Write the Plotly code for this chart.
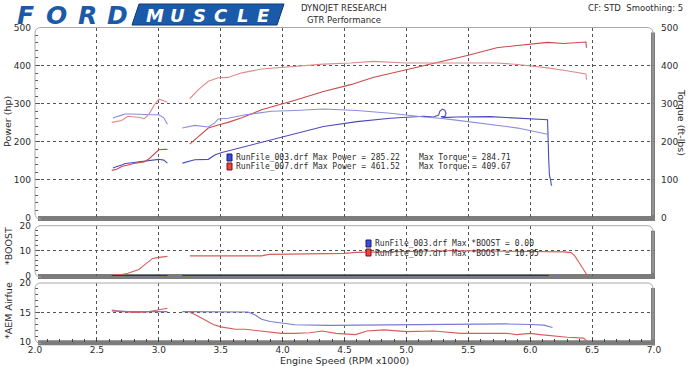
import plotly.graph_objects as go

# ---------------- data ----------------
# Run 003 (blue)
b_rpm_1 = [2.63, 2.65, 2.70, 2.73, 2.78, 2.83, 2.89, 2.95, 3.00, 3.04, 3.07]
b_tq_1 = [262, 265, 270, 273, 273, 272, 271, 271, 271, 263, 246]
b_hp_1 = [131, 134, 139, 143, 145, 147, 150, 152, 154, 152, 144]

b_rpm_tq_2 = [3.19, 3.29, 3.40, 3.45, 3.48, 3.56, 3.70, 3.91, 4.10, 4.33, 4.60, 4.87, 5.14, 5.27, 5.40, 5.68, 5.90, 6.14]
b_tq_2 = [236, 243, 239, 249, 260, 262, 271, 280, 282, 286, 282, 275, 265, 262, 257, 246, 236, 220]

b_rpm_hp_2 = [3.19, 3.29, 3.40, 3.455, 3.51, 3.64, 3.75, 3.91, 4.10, 4.33, 4.60, 4.87, 5.14, 5.22, 5.26, 5.27, 5.29,
              5.31, 5.32, 5.31, 5.28, 5.30, 5.34, 5.40, 5.68, 5.90, 6.14, 6.15, 6.152, 6.155, 6.16, 6.165, 6.17, 6.175]
b_hp_2 = [144, 153, 154, 166, 172, 183, 192, 205, 220, 240, 253, 262, 267, 265, 270, 280, 286,
          283, 275, 266, 266, 264, 264, 265, 266, 263, 258, 150, 126, 115, 105, 100, 88, 85]

# Run 007 (red)
r_rpm_1 = [2.62, 2.66, 2.70, 2.75, 2.80, 2.85, 2.88, 2.92, 2.96, 3.00, 3.04, 3.07]
r_tq_1 = [251, 253, 256, 267, 266, 264, 260, 272, 295, 312, 308, 304]
r_hp_1 = [125, 128, 135, 140, 143, 146, 147, 155, 168, 179, 180, 180]

r_rpm_2 = [3.25, 3.32, 3.40, 3.48, 3.56, 3.67, 3.83, 4.00, 4.10, 4.33, 4.55, 4.73, 5.00, 5.27, 5.50,
           5.73, 5.90, 6.00, 6.14, 6.27, 6.40, 6.45, 6.455]
r_tq_2 = [313, 337, 359, 368, 369, 381, 391, 396, 398, 404, 407, 411, 407, 407, 407,
          407, 403, 400, 394, 388, 381, 378, 363]
r_hp_2 = [194, 213, 236, 244, 251, 263, 284, 300, 309, 332, 350, 369, 389, 411, 427,
          447, 452, 455, 461, 458, 460, 462, 447]

# Boost
b_boost_rpm = [2.62, 3.07, None, 3.19, 6.15]
b_boost = [0, 0, None, 0, 0]
r_boost_rpm_1 = [2.62, 2.70, 2.75, 2.80, 2.84, 2.88, 2.92, 2.95, 3.00, 3.07]
r_boost_1 = [0.4, 0.6, 1.1, 1.8, 2.6, 4.2, 6.0, 7.0, 7.4, 7.8]
r_boost_rpm_2 = [3.25, 3.50, 3.83, 3.89, 4.20, 4.50, 4.59, 4.82, 5.10, 5.35, 5.60, 5.89, 6.10, 6.27, 6.33,
                 6.36, 6.40, 6.43, 6.46]
r_boost_2 = [8.0, 8.0, 8.0, 8.6, 8.7, 9.0, 9.4, 9.6, 9.9, 10.05, 10.0, 9.9, 9.8, 9.6, 9.3,
             8.0, 5.0, 2.4, 0.3]

# AEM air/fuel
b_afr_rpm_1 = [2.62, 2.66, 2.75, 2.85, 2.95, 3.07]
b_afr_1 = [15.45, 15.3, 15.17, 15.15, 15.17, 15.17]
r_afr_rpm_1 = [2.62, 2.70, 2.81, 2.90, 3.00, 3.07]
r_afr_1 = [15.3, 15.15, 15.05, 15.1, 15.45, 15.75]
b_afr_rpm_2 = [3.19, 3.40, 3.60, 3.72, 3.78, 3.83, 3.90, 3.99, 4.10, 4.37, 4.59, 5.00, 5.40, 5.81, 6.00, 6.11, 6.18]
b_afr_2 = [15.17, 15.17, 15.17, 15.1, 14.6, 13.9, 13.5, 13.2, 12.95, 12.85, 12.9, 12.9, 13.0, 13.1, 13.0, 12.9, 12.5]
r_afr_rpm_2 = [3.25, 3.30, 3.37, 3.44, 3.50, 3.62, 3.70, 3.77, 3.83, 3.99, 4.10, 4.22, 4.32, 4.43, 4.59,
               4.68, 4.82, 5.00, 5.22, 5.44, 5.62, 5.81, 5.89, 6.00, 6.08, 6.20, 6.30, 6.43, 6.46]
r_afr_2 = [15.07, 14.6, 13.8, 13.0, 12.6, 12.2, 12.2, 12.05, 11.8, 11.5, 11.5, 11.6, 11.9, 11.5, 11.3,
           11.9, 12.1, 11.8, 11.9, 11.5, 11.5, 11.5, 11.3, 11.5, 11.3, 11.0, 10.85, 10.7, 10.2]

x_ticks = [2.0, 2.5, 3.0, 3.5, 4.0, 4.5, 5.0, 5.5, 6.0, 6.5, 7.0]

legend_power = ["RunFile_003.drf Max Power = 285.22", "RunFile_007.drf Max Power = 461.52"]
legend_torque = ["Max Torque = 284.71", "Max Torque = 409.67"]
legend_boost = ["RunFile_003.drf Max *BOOST = 0.00", "RunFile_007.drf Max *BOOST = 10.05"]

# ---------------- styling ----------------
W, H = 688, 366
L, R = 35, 654
PANELS = {
    'main': ('x', 'y', 27.5, 218.0),
    'boost': ('x2', 'y3', 225.7, 276.0),
    'afr': ('x3', 'y4', 283.0, 342.3),
}
BLUE_HP = '#4b4bbd'
BLUE_TQ = '#8c8ce0'
RED_HP = '#cc4a4a'
RED_TQ = '#e08a8a'
TXT = '#2b2b2b'
FONT = 'DejaVu Sans'
MONO = 'DejaVu Sans Mono'


def join(*segs):
    out = []
    for i, s in enumerate(segs):
        if i:
            out.append(None)
        out.extend(s)
    return out


fig = go.Figure()


def line(x, y, color, xa, ya, width=1.1):
    fig.add_trace(go.Scatter(x=x, y=y, mode='lines', line=dict(color=color, width=width),
                             xaxis=xa, yaxis=ya, showlegend=False, hoverinfo='skip',
                             connectgaps=False))


# main: torque on right axis, power on left
line(join(b_rpm_1, b_rpm_tq_2), join(b_tq_1, b_tq_2), BLUE_TQ, 'x', 'y2')
line(join(r_rpm_1, r_rpm_2), join(r_tq_1, r_tq_2), RED_TQ, 'x', 'y2')
line(join(b_rpm_1, b_rpm_hp_2), join(b_hp_1, b_hp_2), BLUE_HP, 'x', 'y')
line(join(r_rpm_1, r_rpm_2), join(r_hp_1, r_hp_2), RED_HP, 'x', 'y')
# boost
line(join(r_boost_rpm_1, r_boost_rpm_2), join(r_boost_1, r_boost_2), '#d85c5c', 'x2', 'y3')
line(b_boost_rpm, b_boost, '#2e2e8a', 'x2', 'y3', width=2.2)
# afr
line(join(b_afr_rpm_1, b_afr_rpm_2), join(b_afr_1, b_afr_2), '#7a7ad8', 'x3', 'y4')
line(join(r_afr_rpm_1, r_afr_rpm_2), join(r_afr_1, r_afr_2), '#d85c5c', 'x3', 'y4')

xd = [L / W, R / W]


def ydom(T, B):
    return [1 - B / H, 1 - T / H]


tickfont = dict(family=FONT, size=9, color=TXT)
grid = dict(showgrid=True, gridcolor='#555555', griddash='dot', gridwidth=1, zeroline=False,
            automargin=False)
xcommon = dict(domain=xd, range=[2, 7], showline=False, **grid)

layout = dict(
    width=W, height=H, autosize=False,
    margin=dict(l=0, r=0, t=0, b=0, pad=0, autoexpand=False),
    paper_bgcolor='white', plot_bgcolor='rgba(0,0,0,0)', showlegend=False,
    xaxis=dict(anchor='y', showticklabels=False, ticks='', tickvals=x_ticks[1:-1], **xcommon),
    xaxis2=dict(anchor='y3', showticklabels=False, ticks='', tickvals=x_ticks[1:-1], **xcommon),
    xaxis3=dict(anchor='y4', showticklabels=True, tickvals=x_ticks, tickformat='.1f', ticks='inside',
                ticklen=4, tickcolor='#444', tickfont=tickfont, ticklabelstandoff=1,
                minor=dict(dtick=0.1, ticks='inside', ticklen=3, tickcolor='#444', showgrid=False),
                **xcommon),
    yaxis=dict(domain=ydom(27.5, 218.0), range=[0, 500], dtick=100, anchor='x', ticks='inside',
               ticklen=5, tickcolor='#555', tickfont=tickfont, ticklabelstandoff=3,
               minor=dict(dtick=20, ticks='inside', ticklen=3, tickcolor='#555', showgrid=False),
               showline=False, **grid),
    yaxis2=dict(overlaying='y', side='right', range=[0, 500], dtick=100, anchor='x', ticks='',
                tickfont=tickfont, showgrid=False, zeroline=False, showline=False, ticklabelstandoff=6,
                automargin=False),
    yaxis3=dict(domain=ydom(225.7, 276.0), range=[0, 20], dtick=10, anchor='x2', ticks='inside',
                ticklen=5, tickcolor='#555', tickfont=tickfont, ticklabelstandoff=3,
                minor=dict(dtick=2, ticks='inside', ticklen=3, tickcolor='#555', showgrid=False),
                showline=False, **grid),
    yaxis4=dict(domain=ydom(283.0, 342.3), range=[10, 20], dtick=5, anchor='x3', ticks='inside',
                ticklen=5, tickcolor='#555', tickfont=tickfont, ticklabelstandoff=3,
                minor=dict(dtick=1, ticks='inside', ticklen=3, tickcolor='#555', showgrid=False),
                showline=False, **grid),
)

shapes = []


def frame(key):
    xa, ya, T, B = PANELS[key]
    fx = lambda px: (px - L) / (R - L)
    fy = lambda py: (B - py) / (B - T)
    r = 6
    x0, x1, y0, y1 = L, R - 1, T, B + 1
    p = (f"M {fx(x0 + r)},{fy(y1)} Q {fx(x0)},{fy(y1)} {fx(x0)},{fy(y1 - r)} "
         f"L {fx(x0)},{fy(y0 + r)} Q {fx(x0)},{fy(y0)} {fx(x0 + r)},{fy(y0)} "
         f"L {fx(x1 - r)},{fy(y0)} Q {fx(x1)},{fy(y0)} {fx(x1)},{fy(y0 + r)} "
         f"L {fx(x1)},{fy(y1 - 4)}")
    shapes.append(dict(type='path', path=p, line=dict(color='#a8a8a8', width=1),
                       xref=f'{xa} domain', yref=f'{ya} domain', layer='above'))
    low = dict(xref=f'{xa} domain', yref=f'{ya} domain', layer='below')
    shapes.append(dict(type='rect', x0=fx(L + 3), x1=fx(R + 1), y0=fy(B + 3), y1=fy(B - 2),
                       fillcolor='#7c7c7c', line=dict(width=0), **low))
    shapes.append(dict(type='rect', x0=fx(R - 3), x1=fx(R + 1), y0=fy(B + 3), y1=fy(T + 5),
                       fillcolor='#7c7c7c', line=dict(width=0), **low))


for k in PANELS:
    frame(k)


def px2paper(px, py):
    return px / W, 1 - py / H


def rect_px(x0, y0, x1, y1, fill, line_color):
    a, b = px2paper(x0, y0)
    c, d = px2paper(x1, y1)
    shapes.append(dict(type='rect', xref='paper', yref='paper', x0=a, x1=c, y0=d, y1=b,
                       fillcolor=fill, line=dict(color=line_color, width=1), layer='above'))


rect_px(227, 154, 232, 161, '#3a4de0', '#1a1a70')
rect_px(227, 163, 232, 170, '#e04848', '#801010')
rect_px(366, 240, 371, 247, '#3a4de0', '#1a1a70')
rect_px(366, 249, 371, 256, '#e04848', '#801010')

pts = [(139, 4), (284, 4), (277, 25), (132, 25)]
pp = [px2paper(*p) for p in pts]
shapes.append(dict(type='path', xref='paper', yref='paper',
                   path='M ' + ' L '.join(f'{a},{b}' for a, b in pp) + ' Z',
                   fillcolor='#1b5aa8', line=dict(color='#0d3a78', width=1), layer='above'))

annotations = []


def text(s, px, py, size=9, family=FONT, color=TXT, xanchor='center', angle=0, **kw):
    a, b = px2paper(px, py)
    annotations.append(dict(text=s, x=a, y=b, xref='paper', yref='paper', showarrow=False,
                            xanchor=xanchor, yanchor='middle', textangle=angle,
                            font=dict(family=family, size=size, color=color, **kw)))


text('DYNOJET RESEARCH', 344, 8, size=8.5)
text('GTR Performance', 344, 20, size=8.5)
text('CF: STD  Smoothing: 5', 685, 8, size=8.5, xanchor='right')

for ch, cx in zip('FORD', [25, 56, 87, 117]):
    text(ch, cx, 15, size=25, color='#1b5aa8', weight='bold', style='italic')
for ch, cx in zip('MUSCLE', [155, 177, 199, 221, 242, 263]):
    text(ch, cx, 15, size=18, color='white', weight='bold', style='italic')

text('Power (hp)', 8, 122, size=9.5, angle=-90)
text('Torque (ft-lbs)', 681, 122, size=9.5, angle=90)
text('*BOOST', 8, 246, size=9.5, angle=-90)
text('*AEM Airfue', 8, 311, size=9.5, angle=-90)
text('Engine Speed (RPM x1000)', 344, 360.5, size=9.5)

for i, (s, t) in enumerate(zip(legend_power, legend_torque)):
    text(s, 234, 157.5 + 9.5 * i, size=8, family=MONO, xanchor='left')
    text(t, 417, 157.5 + 9.5 * i, size=8, family=MONO, xanchor='left')
for i, s in enumerate(legend_boost):
    text(s, 373, 243.5 + 9.5 * i, size=8, family=MONO, xanchor='left')

layout['shapes'] = shapes
layout['annotations'] = annotations
fig.update_layout(**layout)
fig.write_html('out.html', config={'displayModeBar': False},
               post_script="document.body.style.margin='0';")
